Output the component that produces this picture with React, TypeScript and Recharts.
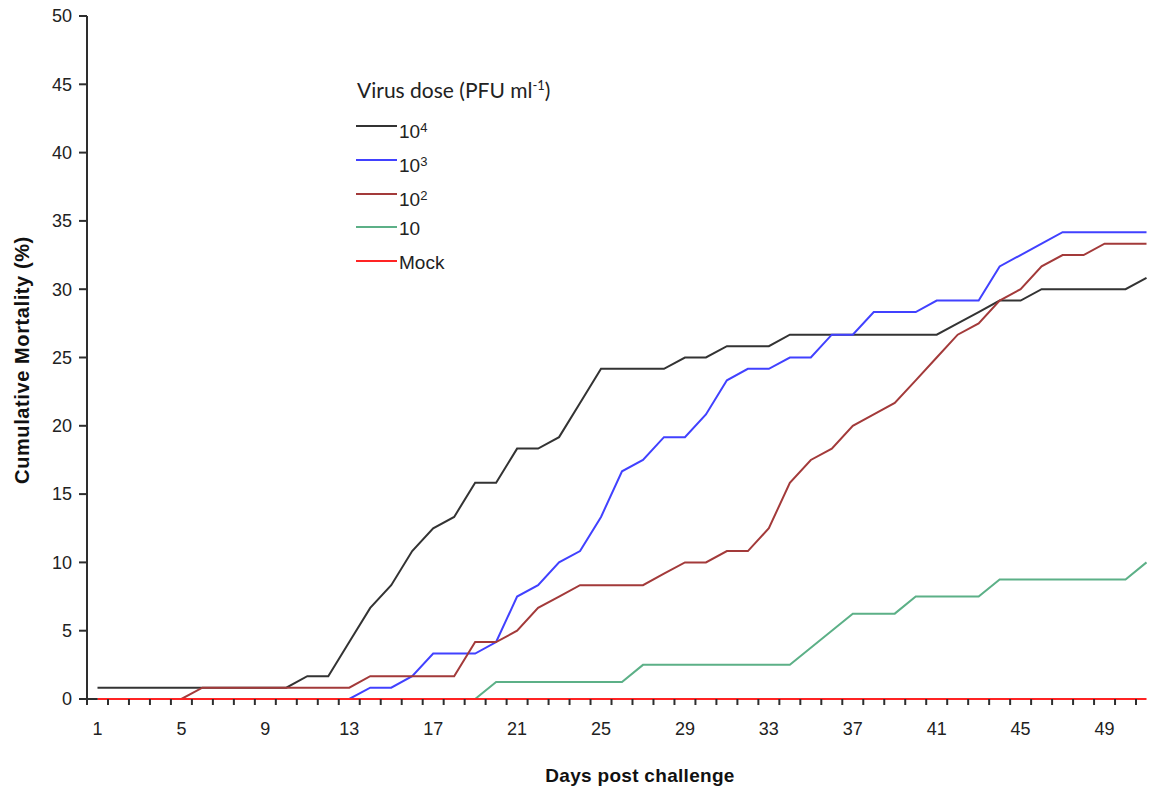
import React from 'react';
import { LineChart, Line, XAxis, YAxis, Legend } from 'recharts';

const days = [
  1, 2, 3, 4, 5, 6, 7, 8, 9, 10, 11, 12, 13, 14, 15, 16, 17, 18, 19, 20,
  21, 22, 23, 24, 25, 26, 27, 28, 29, 30, 31, 32, 33, 34, 35, 36, 37, 38, 39, 40,
  41, 42, 43, 44, 45, 46, 47, 48, 49, 50, 51,
];

const labeledDays = [1, 5, 9, 13, 17, 21, 25, 29, 33, 37, 41, 45, 49];
const yTicks = [0, 5, 10, 15, 20, 25, 30, 35, 40, 45, 50];

// cumulative mortality (%) per day
const dose4 = [
  0.83, 0.83, 0.83, 0.83, 0.83, 0.83, 0.83, 0.83, 0.83, 0.83,
  1.67, 1.67, 4.17, 6.67, 8.33, 10.83, 12.5, 13.33, 15.83, 15.83,
  18.33, 18.33, 19.17, 21.67, 24.17, 24.17, 24.17, 24.17, 25, 25,
  25.83, 25.83, 25.83, 26.67, 26.67, 26.67, 26.67, 26.67, 26.67, 26.67,
  26.67, 27.5, 28.33, 29.17, 29.17, 30, 30, 30, 30, 30, 30.83,
];

const dose3 = [
  0, 0, 0, 0, 0, 0, 0, 0, 0, 0,
  0, 0, 0, 0.83, 0.83, 1.67, 3.33, 3.33, 3.33, 4.17,
  7.5, 8.33, 10, 10.83, 13.33, 16.67, 17.5, 19.17, 19.17, 20.83,
  23.33, 24.17, 24.17, 25, 25, 26.67, 26.67, 28.33, 28.33, 28.33,
  29.17, 29.17, 29.17, 31.67, 32.5, 33.33, 34.17, 34.17, 34.17, 34.17, 34.17,
];

const dose2 = [
  0, 0, 0, 0, 0, 0.83, 0.83, 0.83, 0.83, 0.83,
  0.83, 0.83, 0.83, 1.67, 1.67, 1.67, 1.67, 1.67, 4.17, 4.17,
  5, 6.67, 7.5, 8.33, 8.33, 8.33, 8.33, 9.17, 10, 10,
  10.83, 10.83, 12.5, 15.83, 17.5, 18.33, 20, 20.83, 21.67, 23.33,
  25, 26.67, 27.5, 29.17, 30, 31.67, 32.5, 32.5, 33.33, 33.33, 33.33,
];

const dose1 = [
  0, 0, 0, 0, 0, 0, 0, 0, 0, 0,
  0, 0, 0, 0, 0, 0, 0, 0, 0, 1.25,
  1.25, 1.25, 1.25, 1.25, 1.25, 1.25, 2.5, 2.5, 2.5, 2.5,
  2.5, 2.5, 2.5, 2.5, 3.75, 5, 6.25, 6.25, 6.25, 7.5,
  7.5, 7.5, 7.5, 8.75, 8.75, 8.75, 8.75, 8.75, 8.75, 8.75, 10,
];

const mock = [
  0, 0, 0, 0, 0, 0, 0, 0, 0, 0,
  0, 0, 0, 0, 0, 0, 0, 0, 0, 0,
  0, 0, 0, 0, 0, 0, 0, 0, 0, 0,
  0, 0, 0, 0, 0, 0, 0, 0, 0, 0,
  0, 0, 0, 0, 0, 0, 0, 0, 0, 0, 0,
];

const data = days.map((day, i) => ({
  day,
  dose4: dose4[i],
  dose3: dose3[i],
  dose2: dose2[i],
  dose1: dose1[i],
  mock: mock[i],
}));

const series = [
  { key: 'dose4', base: '10', sup: '4', color: '#333333' },
  { key: 'dose3', base: '10', sup: '3', color: '#4141ff' },
  { key: 'dose2', base: '10', sup: '2', color: '#a33a3a' },
  { key: 'dose1', base: '10', sup: '', color: '#5cb087' },
  { key: 'mock', base: 'Mock', sup: '', color: '#ff2424' },
];

const W = 1160;
const H = 788;
const MARGIN = { top: 16, right: 3, bottom: 29, left: 0 };
const Y_W = 87;
const STEP = (W - MARGIN.left - MARGIN.right - Y_W) / days.length;
const AXIS = '#2e2e2e';
const NUM_FONT = '"Liberation Sans", Arial, sans-serif';

// tick marks sit between days (category style), labels every 4th day
const DayTick = (props: any) => {
  const { x, y, payload, index } = props;
  const v = payload.value;
  return (
    <g>
      {index === 0 && (
        <>
          <line x1={x - STEP / 2} y1={y} x2={x} y2={y} stroke={AXIS} strokeWidth={2} />
          <line x1={x - STEP / 2} y1={y} x2={x - STEP / 2} y2={y + 6} stroke={AXIS} strokeWidth={2} />
        </>
      )}
      <line x1={x + STEP / 2} y1={y} x2={x + STEP / 2} y2={y + 6} stroke={AXIS} strokeWidth={2} />
      {labeledDays.includes(v) && (
        <text x={x} y={y + 36} textAnchor="middle" fontSize={18} fill="#222" fontFamily={NUM_FONT}>
          {v}
        </text>
      )}
    </g>
  );
};

const renderLegend = () => (
  <div style={{ position: 'relative', width: 260, height: 210 }}>
    <div
      style={{
        position: 'absolute', left: 1, top: 0, fontFamily: 'Lato, sans-serif',
        fontSize: 21, lineHeight: '26px', color: '#222', whiteSpace: 'nowrap',
      }}
    >
      Virus dose (PFU ml<sup style={{ fontSize: 13 }}>-1</sup>)
    </div>
    {series.map((s, i) => {
      const cy = 54 + i * 33.8;
      return (
        <div key={s.key}>
          <span
            style={{
              position: 'absolute', left: 0, top: cy - 1, width: 41, height: 2, background: s.color,
            }}
          />
          <span
            style={{
              position: 'absolute', left: 43, top: cy - 9, fontFamily: NUM_FONT, fontSize: 19,
              lineHeight: '22px', color: '#222', whiteSpace: 'nowrap',
            }}
          >
            {s.base}
            {s.sup && <sup style={{ fontSize: 13, verticalAlign: 6 }}>{s.sup}</sup>}
          </span>
        </div>
      );
    })}
  </div>
);

export default function App() {
  return (
    <div
      style={{
        position: 'fixed', left: 0, top: 0, width: 1150, height: 788, overflow: 'hidden', background: '#fff',
      }}
    >
      <LineChart width={W} height={H} data={data} margin={MARGIN}>
        <XAxis
          dataKey="day"
          type="number"
          domain={[0.5, 51.5]}
          ticks={days}
          interval={0}
          height={60}
          axisLine={false}
          tickLine={false}
          tickSize={0}
          tickMargin={0}
          tick={<DayTick />}
          label={{
            content: () => (
              <text
                x={640} y={782} textAnchor="middle" fontSize={19} fontWeight="bold" fill="#111"
                fontFamily={NUM_FONT} letterSpacing={0.3}
              >
                Days post challenge
              </text>
            ),
          }}
        />
        <YAxis
          type="number"
          domain={[0, 50]}
          ticks={yTicks}
          interval={0}
          width={Y_W}
          stroke={AXIS}
          strokeWidth={2}
          tickSize={8}
          tickMargin={7}
          tick={{ fontSize: 18, fill: '#222', fontFamily: NUM_FONT }}
          label={{
            content: () => (
              <text
                transform="translate(22,360) rotate(-90)" textAnchor="middle" dominantBaseline="central"
                fontSize={20} fontWeight="bold" fill="#111" fontFamily={NUM_FONT} letterSpacing={0.6}
              >
                Cumulative Mortality (%)
              </text>
            ),
          }}
        />
        <Legend
          layout="vertical"
          align="center"
          verticalAlign="middle"
          content={renderLegend}
          wrapperStyle={{ left: 356, top: 72, width: 260, height: 210 }}
        />
        {series.map((s) => (
          <Line
            key={s.key}
            type="linear"
            dataKey={s.key}
            stroke={s.color}
            strokeWidth={2}
            dot={false}
            activeDot={false}
            isAnimationActive={false}
          />
        ))}
      </LineChart>
    </div>
  );
}
